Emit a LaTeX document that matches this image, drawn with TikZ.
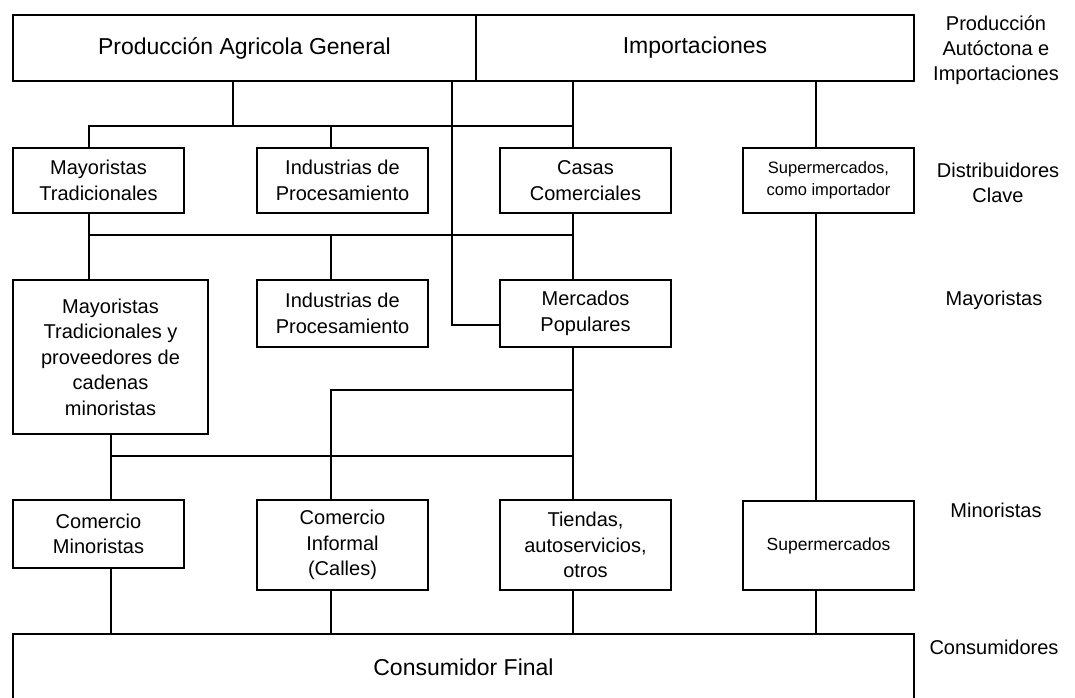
\documentclass[tikz,border=0pt]{standalone}
\usepackage{fontspec}
\setmainfont{Liberation Sans}
\begin{document}
\begin{tikzpicture}[x=1pt,y=-1pt,
  line width=1.7pt, line cap=rect, line join=miter,
  box/.style={draw, line width=1.7pt, inner sep=0pt, align=center,
    font=\fontsize{20}{25.5}\selectfont},
  bigbox/.style={box, font=\fontsize{23}{28}\selectfont},
  smallbox/.style={box, font=\fontsize{16.5}{22}\selectfont},
  side/.style={inner sep=0pt, align=center, font=\fontsize{20}{25}\selectfont}]
\useasboundingbox (0,0) rectangle (1075,697);
\clip (0,0) rectangle (1075,697);
\fill[white] (0,0) rectangle (1075,697);

% column and bus coordinates
\coordinate (c1) at (89,0);
\coordinate (c1b) at (111,0);
\coordinate (c2) at (233,0);
\coordinate (c3) at (331,0);
\coordinate (c4) at (452,0);
\coordinate (c5) at (573,0);
\coordinate (c6) at (816,0);
\coordinate (b1) at (0,126);
\coordinate (b2) at (0,235);
\coordinate (b3) at (0,325);
\coordinate (b4) at (0,390);
\coordinate (b5) at (0,456);

% top row
\node[bigbox, minimum width=463, minimum height=66] (prod) at (244.5,48) {Producción Agricola General};
\node[bigbox, minimum width=438, minimum height=66] (imp) at (695,48) {Importaciones};

% distribuidores clave
\node[box, minimum width=171, minimum height=65] (may1) at (98.5,180.5) {Mayoristas\\Tradicionales};
\node[box, minimum width=171, minimum height=65] (ind1) at (342.5,180.5) {Industrias de\\Procesamiento};
\node[box, minimum width=171, minimum height=65] (casas) at (585.5,180.5) {Casas\\Comerciales};
\node[smallbox, minimum width=171, minimum height=65] (supimp) at (828.5,180.5) {Supermercados,\\como importador};

% mayoristas
\node[box, minimum width=195, minimum height=154] (may2) at (110.5,357) {Mayoristas\\Tradicionales y\\proveedores de\\cadenas\\minoristas};
\node[box, minimum width=171, minimum height=67] (ind2) at (342.5,313.5) {Industrias de\\Procesamiento};
\node[box, minimum width=171, minimum height=67] (merc) at (585.5,313.5) {Mercados\\Populares};

% minoristas
\node[box, minimum width=171, minimum height=68] (commin) at (98.5,534) {Comercio\\Minoristas};
\node[box, minimum width=171, minimum height=90] (cominf) at (342.5,545) {Comercio\\Informal\\(Calles)};
\node[box, minimum width=171, minimum height=90] (tiendas) at (585.5,545) {Tiendas,\\autoservicios,\\otros};
\node[box, font=\fontsize{17.5}{22}\selectfont, minimum width=171, minimum height=89] (super) at (828.5,545.5) {Supermercados};

% consumidor final
\node[bigbox, minimum width=901, minimum height=66] (cons) at (463.5,667) {Consumidor Final};

% side labels
\node[side] (l1) at (996,50) {Producción\\Autóctona e\\Importaciones};
\node[side] (l2) at (998,182.5) {Distribuidores\\Clave};
\node[side] (l3) at (994,300) {Mayoristas};
\node[side] (l4) at (996,510) {Minoristas};
\node[side] (l5) at (994,647) {Consumidores};

% connectors
\draw (prod.south -| c2) -- (b1 -| c2);
\draw (b1 -| c1) -- (b1 -| c5);
\draw (b1 -| c1) -- (may1.north -| c1);
\draw (b1 -| c3) -- (ind1.north -| c3);
\draw (imp.south -| c5) -- (casas.north -| c5);
\draw (prod.south -| c4) -- (b3 -| c4) -- (merc.west |- b3);
\draw (imp.south -| c6) -- (supimp.north -| c6);
\draw (supimp.south -| c6) -- (super.north -| c6);
\draw (super.south -| c6) -- (cons.north -| c6);
\draw (may1.south -| c1) -- (may2.north -| c1);
\draw (b2 -| c1) -- (b2 -| c5);
\draw (casas.south -| c5) -- (merc.north -| c5);
\draw (b2 -| c3) -- (ind2.north -| c3);
\draw (merc.south -| c5) -- (tiendas.north -| c5);
\draw (b4 -| c3) -- (b4 -| c5);
\draw (b4 -| c3) -- (cominf.north -| c3);
\draw (b5 -| c1b) -- (b5 -| c5);
\draw (may2.south -| c1b) -- (commin.north -| c1b);
\draw (commin.south -| c1b) -- (cons.north -| c1b);
\draw (cominf.south -| c3) -- (cons.north -| c3);
\draw (tiendas.south -| c5) -- (cons.north -| c5);
\end{tikzpicture}
\end{document}
